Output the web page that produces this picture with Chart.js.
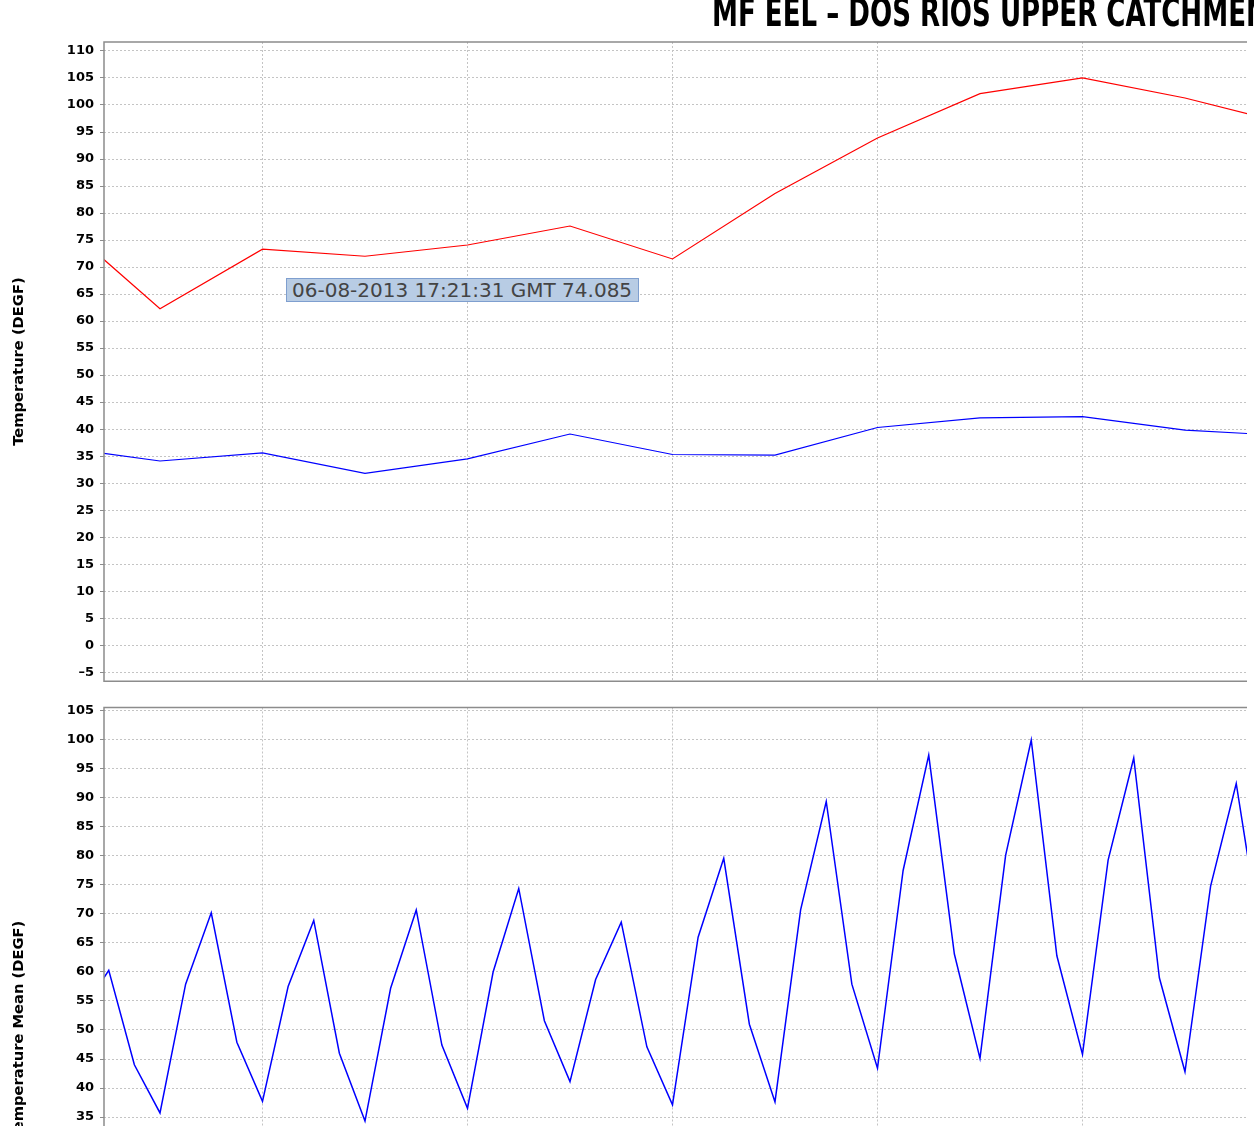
<!DOCTYPE html>
<html>
<head>
<meta charset="utf-8">
<script src="https://cdn.jsdelivr.net/npm/chart.js@4.4.1/dist/chart.umd.min.js"></script>
<style>
  html, body { margin: 0; padding: 0; background: #fff; overflow: hidden; }
  #wrap { position: relative; width: 1254px; height: 1126px; overflow: hidden; }
  canvas { position: absolute; left: 0; }
  #topChart { top: 0; }
  #bottomChart { top: 690px; }
  #title {
    position: absolute; left: 712px; top: 4px; white-space: nowrap;
    font: bold 29px "DejaVu Sans Condensed", "DejaVu Sans", sans-serif;
    line-height: 29px; color: #000;
    transform: scaleY(1.33); transform-origin: 0 100%;
  }
  #tip {
    position: absolute; left: 286px; top: 278px; width: 346px; height: 22px;
    padding-left: 5px; background: #b8cce4; border: 1px solid #7f9fcf;
    font: 20px "DejaVu Sans", sans-serif; line-height: 22px; color: #444;
    white-space: nowrap;
  }
</style>
</head>
<body>
<div id="wrap">
  <canvas id="topChart" width="1254" height="695"></canvas>
  <canvas id="bottomChart" width="1254" height="700"></canvas>
  <div id="title">MF EEL – DOS RIOS UPPER CATCHMENT</div>
  <div id="tip">06-08-2013 17:21:31 GMT 74.085</div>
</div>
<script>
// daily values (day offset from first reading)
const dailyDays = [0, 1, 2, 3, 4, 5, 6, 7, 8, 9, 10, 11, 12];
const dailyMax = [78.9, 62.3, 73.3, 72.0, 74.085, 77.6, 71.5, 83.6, 93.9, 102.1, 105.0, 101.3, 96.5];
const dailyMin = [36.7, 34.1, 35.6, 31.8, 34.5, 39.1, 35.3, 35.2, 40.3, 42.1, 42.3, 39.8, 38.8];

// 6-hourly readings
const sixHourDays = [
  0, 0.25, 0.5, 0.75, 1, 1.25, 1.5, 1.75, 2, 2.25, 2.5, 2.75,
  3, 3.25, 3.5, 3.75, 4, 4.25, 4.5, 4.75, 5, 5.25, 5.5, 5.75,
  6, 6.25, 6.5, 6.75, 7, 7.25, 7.5, 7.75, 8, 8.25, 8.5, 8.75,
  9, 9.25, 9.5, 9.75, 10, 10.25, 10.5, 10.75, 11, 11.25, 11.5, 11.75
];
const meanTemp = [
  41.0, 53.5, 60.3, 44.0, 35.7, 57.9, 70.2, 47.9, 37.7, 57.5, 68.9, 46.0,
  34.3, 57.2, 70.7, 47.4, 36.5, 60.0, 74.4, 51.6, 41.1, 58.7, 68.6, 47.1,
  37.1, 66.0, 79.6, 51.0, 37.6, 70.7, 89.4, 57.9, 43.4, 77.5, 97.4, 63.1,
  45.1, 80.1, 100.0, 62.8, 45.8, 79.3, 96.9, 59.0, 42.8, 74.8, 92.5, 64.4
];

const X_MIN = 0.4537;
const X_MAX = 11.605;

const toPoints = (xs, ys) => xs.map((x, i) => ({ x: x, y: ys[i] }));

const framePlugin = {
  id: 'frame',
  afterDraw(chart) {
    const { ctx, chartArea: a } = chart;
    ctx.save();
    ctx.strokeStyle = '#8c8c8c';
    ctx.lineWidth = 1.5;
    ctx.setLineDash([]);
    ctx.beginPath();
    ctx.moveTo(a.right, a.top);
    ctx.lineTo(a.left, a.top);
    ctx.lineTo(a.left, a.bottom);
    ctx.lineTo(a.right, a.bottom);
    ctx.stroke();
    ctx.restore();
  }
};

function buildOptions(yMin, yMax, yTitle, pad) {
  return {
    responsive: false,
    animation: false,
    events: [],
    layout: { padding: pad },
    plugins: { legend: { display: false }, tooltip: { enabled: false } },
    scales: {
      x: {
        type: 'linear',
        min: X_MIN,
        max: X_MAX,
        afterFit: (s) => { s.height = 0; },
        ticks: { display: false, stepSize: 2, includeBounds: false },
        grid: { color: '#c4c4c4', lineWidth: 1, drawTicks: false },
        border: { display: false, dash: [2, 2] }
      },
      y: {
        type: 'linear',
        min: yMin,
        max: yMax,
        afterFit: (s) => { s.width = 104; },
        ticks: {
          stepSize: 5,
          maxTicksLimit: 100,
          includeBounds: false,
          padding: 6,
          color: '#000',
          font: { family: 'DejaVu Sans', size: 13, weight: 'bold' },
          callback: (v) => String(v).replace('-', '\u2013')
        },
        grid: {
          color: '#c4c4c4', lineWidth: 1,
          drawTicks: true, tickLength: 4, tickColor: '#8c8c8c', tickBorderDash: []
        },
        border: { display: false, dash: [2, 2] },
        title: {
          display: true,
          text: yTitle,
          color: '#000',
          padding: { top: 10, bottom: 0 },
          font: { family: 'DejaVu Sans', size: 14.7, weight: 'bold' }
        }
      }
    }
  };
}

new Chart(document.getElementById('topChart').getContext('2d'), {
  type: 'line',
  data: {
    datasets: [
      {
        label: 'Max',
        data: toPoints(dailyDays, dailyMax),
        borderColor: '#ff0000',
        borderWidth: 1.2,
        pointRadius: 0,
        tension: 0,
        clip: 0
      },
      {
        label: 'Min',
        data: toPoints(dailyDays, dailyMin),
        borderColor: '#0000ff',
        borderWidth: 1.2,
        pointRadius: 0,
        tension: 0,
        clip: 0
      }
    ]
  },
  options: buildOptions(-6.66, 111.66, 'Temperature (DEGF)', { left: 0, right: 7, top: 42, bottom: 11 }),
  plugins: [framePlugin]
});

new Chart(document.getElementById('bottomChart').getContext('2d'), {
  type: 'line',
  data: {
    datasets: [
      {
        label: 'Mean',
        data: toPoints(sixHourDays, meanTemp),
        borderColor: '#0000ff',
        borderWidth: 1.5,
        pointRadius: 0,
        tension: 0,
        clip: 0
      }
    ]
  },
  options: buildOptions(-5.6, 105.6, 'Temperature Mean (DEGF)', { left: 0, right: 7, top: 17.5, bottom: 37.5 }),
  plugins: [framePlugin]
});
</script>
</body>
</html>
